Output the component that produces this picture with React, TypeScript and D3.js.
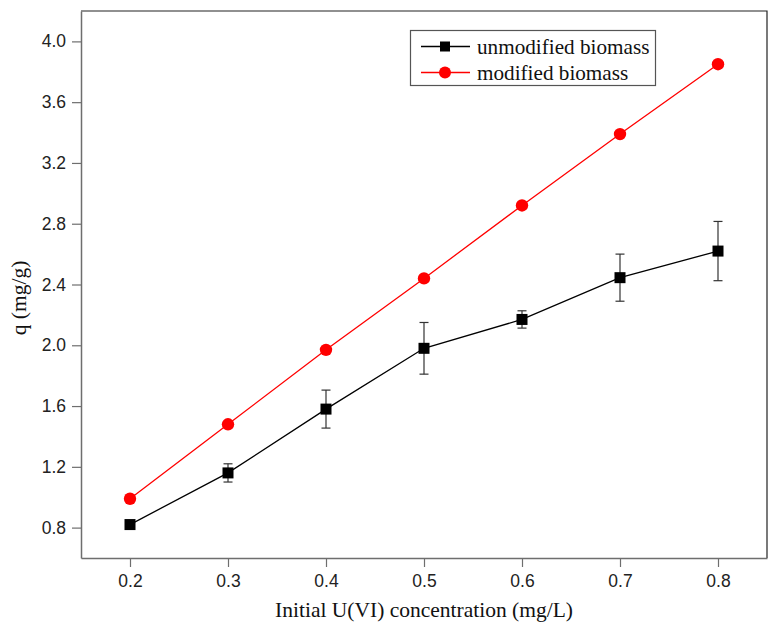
import React, { useEffect, useRef } from "react";
import * as d3 from "d3";

// concentrations (mg/L)
const conc = [0.2, 0.3, 0.4, 0.5, 0.6, 0.7, 0.8];
// q (mg/g)
const unmodified = [0.82, 1.16, 1.58, 1.98, 2.17, 2.445, 2.62];
const unmodifiedErr = [0, 0.06, 0.125, 0.17, 0.057, 0.155, 0.195];
const modified = [0.99, 1.48, 1.97, 2.44, 2.92, 3.39, 3.85];

const xTicks = [0.2, 0.3, 0.4, 0.5, 0.6, 0.7, 0.8];
const yTicks = [0.8, 1.2, 1.6, 2.0, 2.4, 2.8, 3.2, 3.6, 4.0];

const W = 768, H = 628;
const left = 81, right = 767, top = 11, bottom = 558;

function App() {
    const ref = useRef<SVGSVGElement>(null);

    useEffect(() => {
        const svg = d3.select(ref.current);
        svg.selectAll("*").remove();

        const x = d3.scaleLinear().domain([0.15, 0.85]).range([left, right]);
        const y = d3.scaleLinear().domain([0.6, 4.2]).range([bottom, top]);

        const axisColor = "#6e6e6e";
        const tickFont = "'Liberation Sans', Arial, sans-serif";
        const serif = "'Liberation Serif', 'Times New Roman', serif";

        // frame top/right
        svg.append("path")
            .attr("d", `M${left},${top}H${right}V${bottom}`)
            .attr("fill", "none")
            .attr("stroke", "#222")
            .attr("stroke-width", 1.2);

        // minor ticks
        const xMinor = d3.range(0.15, 0.851, 0.05).map((v) => +v.toFixed(2));
        const yMinor = d3.range(0.6, 4.21, 0.2).map((v) => +v.toFixed(1));

        const xAxis = svg.append("g").attr("transform", `translate(0,${bottom})`);
        xAxis.call(d3.axisBottom(x).tickValues(xMinor).tickSize(5).tickFormat(() => "").tickSizeOuter(0));
        xAxis.call(d3.axisBottom(x).tickValues(xTicks).tickSize(9).tickPadding(8)
            .tickFormat(d3.format(".1f")).tickSizeOuter(0));
        const yAxis = svg.append("g").attr("transform", `translate(${left},0)`);
        yAxis.call(d3.axisLeft(y).tickValues(yMinor).tickSize(5).tickFormat(() => "").tickSizeOuter(0));
        yAxis.call(d3.axisLeft(y).tickValues(yTicks).tickSize(9).tickPadding(6)
            .tickFormat(d3.format(".1f")).tickSizeOuter(0));

        [xAxis, yAxis].forEach((g) => {
            g.selectAll("path.domain").attr("stroke", axisColor).attr("stroke-width", 1.5);
            g.selectAll("line").attr("stroke", axisColor).attr("stroke-width", 1.2);
            g.selectAll("text")
                .attr("font-family", tickFont)
                .attr("font-size", 17.5)
                .attr("fill", "#222");
        });

        const data1 = conc.map((c, i) => ({ x: c, y: unmodified[i], e: unmodifiedErr[i] }));
        const data2 = conc.map((c, i) => ({ x: c, y: modified[i] }));
        const line = d3.line<{ x: number; y: number }>().x((d) => x(d.x)).y((d) => y(d.y));

        svg.append("path")
            .attr("d", line(data2))
            .attr("fill", "none")
            .attr("stroke", "#ff0000")
            .attr("stroke-width", 1.3);

        svg.append("path")
            .attr("d", line(data1))
            .attr("fill", "none")
            .attr("stroke", "#000")
            .attr("stroke-width", 1.3);

        // error bars
        const eb = svg.append("g").attr("stroke", "#333").attr("stroke-width", 1.2);
        data1.filter((d) => d.e > 0).forEach((d) => {
            const cx = x(d.x);
            const y1 = y(d.y + d.e), y2 = y(d.y - d.e);
            eb.append("line").attr("x1", cx).attr("x2", cx).attr("y1", y1).attr("y2", y2);
            eb.append("line").attr("x1", cx - 4.5).attr("x2", cx + 4.5).attr("y1", y1).attr("y2", y1);
            eb.append("line").attr("x1", cx - 4.5).attr("x2", cx + 4.5).attr("y1", y2).attr("y2", y2);
        });

        svg.append("g").selectAll("rect")
            .data(data1)
            .join("rect")
            .attr("x", (d) => x(d.x) - 5.5)
            .attr("y", (d) => y(d.y) - 5.5)
            .attr("width", 11)
            .attr("height", 11)
            .attr("fill", "#000");

        svg.append("g").selectAll("circle")
            .data(data2)
            .join("circle")
            .attr("cx", (d) => x(d.x))
            .attr("cy", (d) => y(d.y))
            .attr("r", 6.2)
            .attr("fill", "#ff0000");

        // legend
        const lg = svg.append("g");
        lg.append("rect")
            .attr("x", 410.5).attr("y", 30.5)
            .attr("width", 245).attr("height", 55)
            .attr("fill", "#fff")
            .attr("stroke", "#555")
            .attr("stroke-width", 1.2);
        const items = [
            { label: "unmodified biomass", color: "#000", shape: "square", yy: 46.5 },
            { label: "modified biomass", color: "#ff0000", shape: "circle", yy: 72.5 },
        ];
        items.forEach((it) => {
            lg.append("line")
                .attr("x1", 421).attr("x2", 470)
                .attr("y1", it.yy).attr("y2", it.yy)
                .attr("stroke", it.color).attr("stroke-width", 1.3);
            if (it.shape === "square") {
                lg.append("rect").attr("x", 440).attr("y", it.yy - 5)
                    .attr("width", 10).attr("height", 10).attr("fill", it.color);
            } else {
                lg.append("circle").attr("cx", 445).attr("cy", it.yy).attr("r", 6).attr("fill", it.color);
            }
            lg.append("text")
                .attr("x", 477).attr("y", it.yy + 7)
                .attr("font-family", serif)
                .attr("font-size", 21.2)
                .attr("fill", "#111")
                .text(it.label);
        });

        // axis titles
        svg.append("text")
            .attr("x", (left + right) / 2)
            .attr("y", 617)
            .attr("text-anchor", "middle")
            .attr("font-family", serif)
            .attr("font-size", 21.5)
            .attr("fill", "#111")
            .text("Initial U(VI) concentration (mg/L)");

        svg.append("text")
            .attr("transform", `translate(26,298) rotate(-90)`)
            .attr("text-anchor", "middle")
            .attr("font-family", serif)
            .attr("font-size", 21.5)
            .attr("fill", "#111")
            .text("q (mg/g)");
    }, []);

    return (
        <svg
            ref={ref}
            width={W}
            height={H}
            style={{ position: "absolute", left: 0, top: 0, background: "#fff" }}
        ></svg>
    );
}

export default App;
